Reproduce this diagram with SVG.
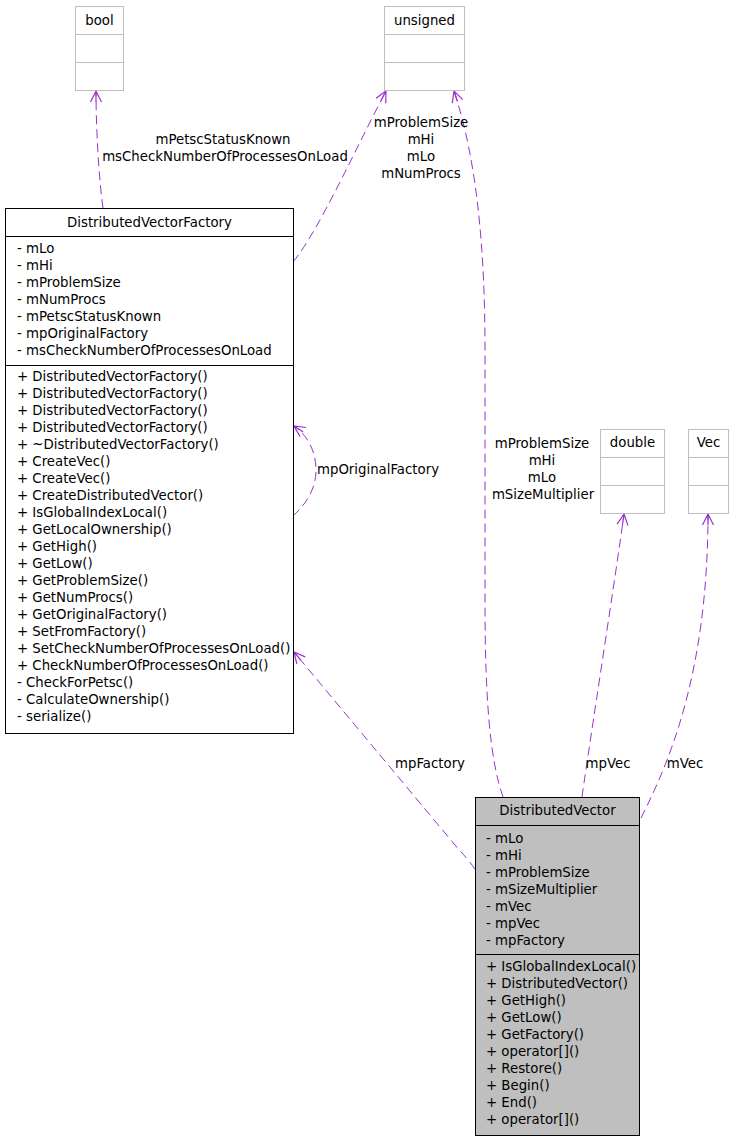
<svg xmlns="http://www.w3.org/2000/svg" width="736" height="1141" viewBox="0 0 736 1141">
<style>
text{font-family:"DejaVu Sans","Liberation Sans",sans-serif;font-size:13.3px;fill:#000}
.c{text-anchor:middle}
.ext{fill:#fff;stroke:#bfbfbf;stroke-width:1}
.box{fill:#fff;stroke:#000;stroke-width:1}
.cur{fill:#bfbfbf;stroke:#000;stroke-width:1}
.sep{stroke:#000;stroke-width:1}
.sepg{stroke:#bfbfbf;stroke-width:1}
.e{fill:none;stroke:#9a32cd;stroke-width:1;stroke-dasharray:9,5;marker-end:url(#arr)}
</style>
<defs>
<marker id="arr" markerUnits="userSpaceOnUse" markerWidth="16" markerHeight="16" refX="12" refY="8" orient="auto" viewBox="0 0 16 16">
<path d="M1,2.5 L12,8 L1,13.5 M1,8 L12,8" fill="none" stroke="#9a32cd" stroke-width="1.2"/>
</marker>
</defs>
<rect width="736" height="1141" fill="#fff"/>
<g id="connectors">
<path class="e" d="M103,208 C99,180 96,130 96,91"/>
<path class="e" d="M293,262 C318,232 355,150 386,91"/>
<path class="e" d="M503,797 C490,760 485,700 485,600 L485,350 C485,250 477,160 454,91"/>
<path class="e" d="M475,869 C470,862 464,855 455,845 L294,652"/>
<path class="e" d="M582,797 C590,740 615,580 624,514"/>
<path class="e" d="M641,818 C665,770 708,680 708,514"/>
<path class="e" d="M293,516 C305,505 316,490 316,470 C316,450 306,434 294,426"/>
<text class="c" x="223" y="144">mPetscStatusKnown</text>
<text class="c" x="225" y="161">msCheckNumberOfProcessesOnLoad</text>
<text class="c" x="421" y="127">mProblemSize</text>
<text class="c" x="421" y="144">mHi</text>
<text class="c" x="421" y="161">mLo</text>
<text class="c" x="421" y="178">mNumProcs</text>
<text class="c" x="542" y="448">mProblemSize</text>
<text class="c" x="542" y="465">mHi</text>
<text class="c" x="542" y="482">mLo</text>
<text class="c" x="543" y="499">mSizeMultiplier</text>
<text x="317" y="474">mpOriginalFactory</text>
<text class="c" x="430" y="768">mpFactory</text>
<text class="c" x="608" y="768">mpVec</text>
<text class="c" x="685" y="768">mVec</text>
</g>
<g id="bool">
<rect class="ext" x="75.5" y="6.5" width="48" height="84"/>
<line class="sepg" x1="75.5" y1="34.5" x2="123.5" y2="34.5"/>
<line class="sepg" x1="75.5" y1="62.5" x2="123.5" y2="62.5"/>
<text class="c" x="99.5" y="25">bool</text>
</g>
<g id="unsigned">
<rect class="ext" x="384.5" y="6.5" width="80" height="84"/>
<line class="sepg" x1="384.5" y1="34.5" x2="464.5" y2="34.5"/>
<line class="sepg" x1="384.5" y1="62.5" x2="464.5" y2="62.5"/>
<text class="c" x="424.5" y="25">unsigned</text>
</g>
<g id="double">
<rect class="ext" x="600.5" y="429.5" width="64" height="84"/>
<line class="sepg" x1="600.5" y1="457.5" x2="664.5" y2="457.5"/>
<line class="sepg" x1="600.5" y1="485.5" x2="664.5" y2="485.5"/>
<text class="c" x="632.5" y="447">double</text>
</g>
<g id="Vec">
<rect class="ext" x="688.5" y="429.5" width="40" height="84"/>
<line class="sepg" x1="688.5" y1="457.5" x2="728.5" y2="457.5"/>
<line class="sepg" x1="688.5" y1="485.5" x2="728.5" y2="485.5"/>
<text class="c" x="708.5" y="447">Vec</text>
</g>
<g id="DistributedVectorFactory">
<rect class="box" x="5.5" y="208.5" width="288" height="525"/>
<line class="sep" x1="5.5" y1="236.5" x2="293.5" y2="236.5"/>
<line class="sep" x1="5.5" y1="365.5" x2="293.5" y2="365.5"/>
<text class="c" x="149.5" y="227">DistributedVectorFactory</text>
<text x="17" y="253">- mLo</text>
<text x="17" y="270">- mHi</text>
<text x="17" y="287">- mProblemSize</text>
<text x="17" y="304">- mNumProcs</text>
<text x="17" y="321">- mPetscStatusKnown</text>
<text x="17" y="338">- mpOriginalFactory</text>
<text x="17" y="355">- msCheckNumberOfProcessesOnLoad</text>
<text x="17" y="381">+ DistributedVectorFactory()</text>
<text x="17" y="398">+ DistributedVectorFactory()</text>
<text x="17" y="415">+ DistributedVectorFactory()</text>
<text x="17" y="432">+ DistributedVectorFactory()</text>
<text x="17" y="449">+ ~DistributedVectorFactory()</text>
<text x="17" y="466">+ CreateVec()</text>
<text x="17" y="483">+ CreateVec()</text>
<text x="17" y="500">+ CreateDistributedVector()</text>
<text x="17" y="517">+ IsGlobalIndexLocal()</text>
<text x="17" y="534">+ GetLocalOwnership()</text>
<text x="17" y="551">+ GetHigh()</text>
<text x="17" y="568">+ GetLow()</text>
<text x="17" y="585">+ GetProblemSize()</text>
<text x="17" y="602">+ GetNumProcs()</text>
<text x="17" y="619">+ GetOriginalFactory()</text>
<text x="17" y="636">+ SetFromFactory()</text>
<text x="17" y="653">+ SetCheckNumberOfProcessesOnLoad()</text>
<text x="17" y="670">+ CheckNumberOfProcessesOnLoad()</text>
<text x="17" y="687">- CheckForPetsc()</text>
<text x="17" y="704">- CalculateOwnership()</text>
<text x="17" y="721">- serialize()</text>
</g>
<g id="DistributedVector">
<rect class="cur" x="475.5" y="797.5" width="164" height="338"/>
<line class="sep" x1="475.5" y1="825.5" x2="639.5" y2="825.5"/>
<line class="sep" x1="475.5" y1="954.5" x2="639.5" y2="954.5"/>
<text class="c" x="557.5" y="815">DistributedVector</text>
<text x="486" y="843">- mLo</text>
<text x="486" y="860">- mHi</text>
<text x="486" y="877">- mProblemSize</text>
<text x="486" y="894">- mSizeMultiplier</text>
<text x="486" y="911">- mVec</text>
<text x="486" y="928">- mpVec</text>
<text x="486" y="945">- mpFactory</text>
<text x="486" y="971">+ IsGlobalIndexLocal()</text>
<text x="486" y="988">+ DistributedVector()</text>
<text x="486" y="1005">+ GetHigh()</text>
<text x="486" y="1022">+ GetLow()</text>
<text x="486" y="1039">+ GetFactory()</text>
<text x="486" y="1056">+ operator[]()</text>
<text x="486" y="1073">+ Restore()</text>
<text x="486" y="1090">+ Begin()</text>
<text x="486" y="1107">+ End()</text>
<text x="486" y="1124">+ operator[]()</text>
</g>
</svg>
